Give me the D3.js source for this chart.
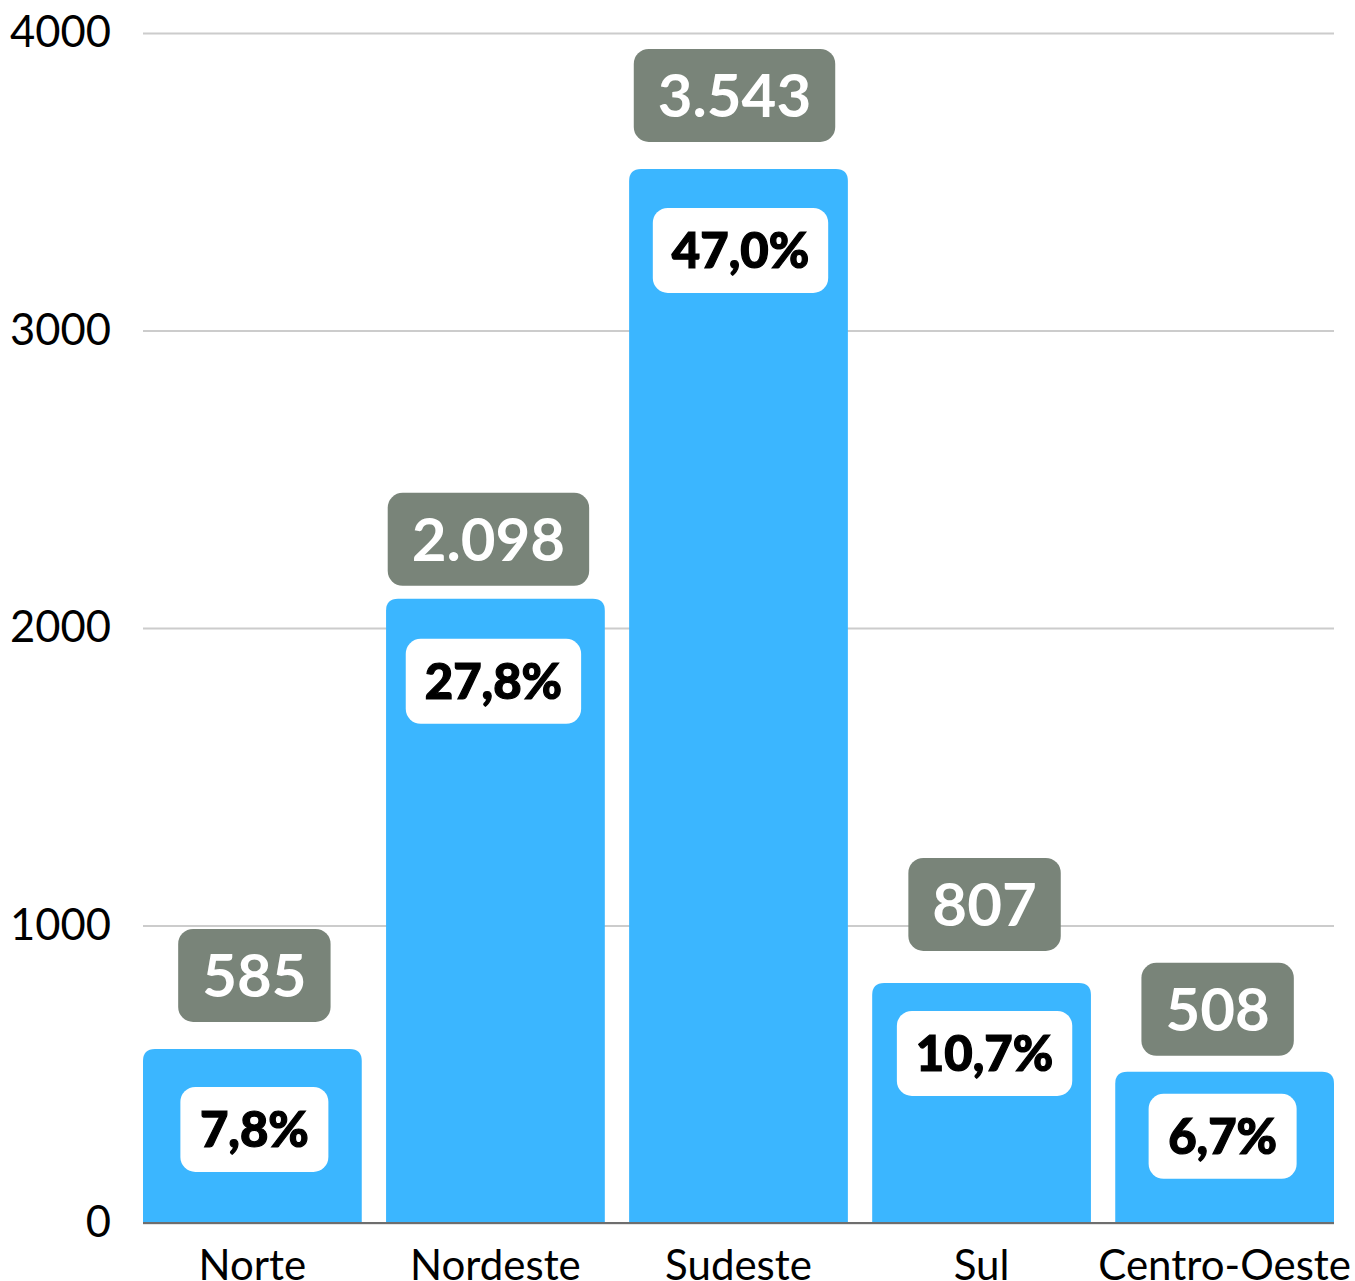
<!DOCTYPE html>
<html>
<head>
<meta charset="utf-8">
<script src="https://cdn.jsdelivr.net/npm/d3@7"></script>
<style>
  * { margin: 0; padding: 0; box-sizing: border-box; }
  body { background: #fff; font-family: Lato, "Noto Sans", sans-serif; }
  .tick text { font-family: Lato, sans-serif; }
</style>
</head>
<body>
<svg id="chart"></svg>
<script>
// data
const regions = ["Norte", "Nordeste", "Sudeste", "Sul", "Centro-Oeste"];
const counts = [585, 2098, 3543, 807, 508];
const countLabels = ["585", "2.098", "3.543", "807", "508"];
const shares = ["7,8%", "27,8%", "47,0%", "10,7%", "6,7%"];
const yTicks = [0, 1000, 2000, 3000, 4000];

// label placement (px, relative to bar top / bar centre)
const countGap = [27, 13, 27, 32, 16];
const countShift = [2, -7, -4, 3, -7];
const shareGap = [38, 40, 39, 28, 22];
const shareShift = [2, -2, 2, 3, -2];

const width = 1355;
const height = 1281;
const marginTop = 33;
const marginBottom = 58;
const marginLeft = 143;
const marginRight = 21;

const svg = d3.select("#chart")
  .attr("width", width)
  .attr("height", height)
  .attr("viewBox", [0, 0, width, height]);

const x = d3.scaleBand()
  .domain(regions)
  .range([marginLeft, width - marginRight])
  .paddingInner(0.1)
  .paddingOuter(0);

const y = d3.scaleLinear()
  .domain([0, 4000])
  .range([height - marginBottom, marginTop]);

// gridlines + y labels
const yAxis = svg.append("g")
  .attr("transform", `translate(${marginLeft},0)`)
  .call(d3.axisLeft(y).tickValues(yTicks).tickFormat(d3.format("d")).tickSize(0).tickPadding(32))
  .call(g => g.select(".domain").remove());
yAxis.selectAll(".tick line")
  .attr("x2", width - marginRight - marginLeft)
  .attr("stroke", "#cccccc")
  .attr("stroke-width", 2);
yAxis.selectAll(".tick text")
  .attr("font-size", 43.5)
  .attr("fill", "#000");

// bars with rounded tops
const r = 12;
const barPath = (d, i) => {
  const x0 = x(regions[i]), x1 = x0 + x.bandwidth();
  const yt = y(d), yb = y(0);
  return `M${x0},${yb}V${yt + r}Q${x0},${yt} ${x0 + r},${yt}H${x1 - r}Q${x1},${yt} ${x1},${yt + r}V${yb}Z`;
};
svg.append("g")
  .selectAll("path")
  .data(counts)
  .join("path")
  .attr("d", barPath)
  .attr("fill", "#3bb6ff");

// baseline
svg.append("line")
  .attr("x1", marginLeft)
  .attr("x2", width - marginRight)
  .attr("y1", y(0))
  .attr("y2", y(0))
  .attr("stroke", "#6e6e6e")
  .attr("stroke-width", 2);

// category labels (bottom is clipped by the frame, as in the original)
svg.append("g")
  .attr("transform", `translate(0,${y(0)})`)
  .call(d3.axisBottom(x).tickSize(0).tickPadding(27))
  .call(g => g.select(".domain").remove())
  .selectAll("text")
  .attr("font-size", 42)
  .attr("fill", "#000")
  .attr("dy", "0.71em");

// label helper: rounded box around text
function badge(g, cx, cy, txt, opts) {
  const t = g.append("text")
    .attr("x", cx)
    .attr("y", cy)
    .attr("dy", "0.36em")
    .attr("text-anchor", "middle")
    .attr("font-size", opts.size)
    .attr("font-weight", opts.weight)
    .attr("fill", opts.color)
    .attr("stroke", opts.stroke || "none")
    .attr("stroke-width", opts.strokeW || 0)
    .text(txt);
  const w = Math.max(t.node().getComputedTextLength() + opts.pad * 2, opts.minW);
  g.insert("rect", "text")
    .attr("x", cx - w / 2)
    .attr("y", cy - opts.h / 2)
    .attr("width", w)
    .attr("height", opts.h)
    .attr("rx", 15)
    .attr("fill", opts.bg);
}

counts.forEach((d, i) => {
  const cx = x(regions[i]) + x.bandwidth() / 2;
  badge(svg.append("g"), cx + countShift[i], y(d) - countGap[i] - 46.5, countLabels[i],
    { size: 60, weight: "bold", pad: 24, h: 93, minW: 148, bg: "#798479", color: "#fff" });
  badge(svg.append("g"), cx + shareShift[i], y(d) + shareGap[i] + 42.5, shares[i],
    { size: 49, weight: 900, pad: 19, h: 85, minW: 148, bg: "#fff", color: "#000",
      stroke: "#000", strokeW: 1.2 });
});
</script>
</body>
</html>
